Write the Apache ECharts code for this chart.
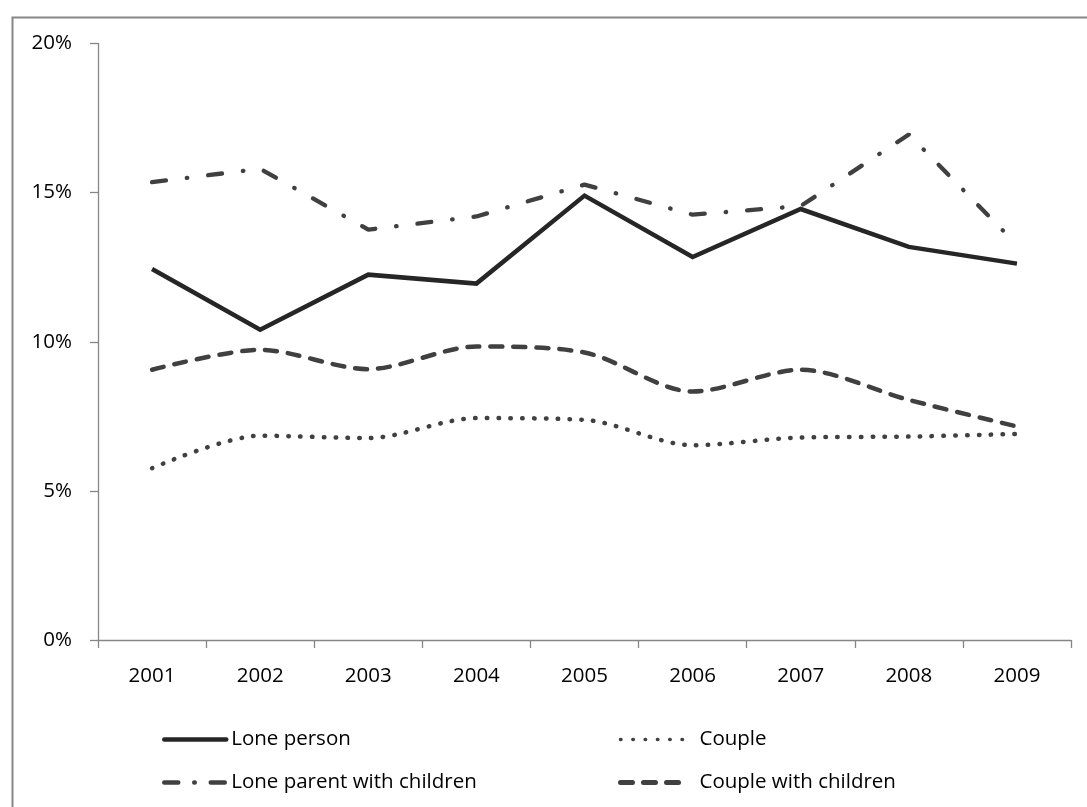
<!DOCTYPE html>
<html>
<head>
<meta charset="utf-8">
<script src="https://cdn.jsdelivr.net/npm/echarts@6/dist/echarts.min.js"></script>
<style>
html,body{margin:0;padding:0;background:#fff;}
#chart{width:1087px;height:807px;}
</style>
</head>
<body>
<div id="chart"></div>
<script>
const years = ['2001','2002','2003','2004','2005','2006','2007','2008','2009'];
const lonePerson = [12.44, 10.40, 12.25, 11.95, 14.90, 12.84, 14.45, 13.18, 12.62];
const couple = [5.76, 6.85, 6.77, 7.44, 7.38, 6.53, 6.79, 6.82, 6.91];
const loneParent = [15.35, 15.80, 13.76, 14.20, 15.27, 14.26, 14.55, 16.95, 13.25];
const coupleChildren = [9.06, 9.73, 9.08, 9.84, 9.64, 8.33, 9.06, 8.05, 7.16];
const seriesNames = ['Lone person', 'Couple', 'Lone parent with children', 'Couple with children'];
const yTicks = [0, 5, 10, 15, 20];

const FONT = "'Open Sans', 'Liberation Sans', sans-serif";
const chart = echarts.init(document.getElementById('chart'), null, {renderer: 'canvas'});

const styles = {
  'Lone person': {color: '#262626', width: 4.5, type: 'solid', cap: 'butt', join: 'miter'},
  'Couple': {color: '#404040', width: 4.5, type: [0.5, 11.3], cap: 'round'},
  'Lone parent with children': {color: '#404040', width: 4.3, type: [14, 21, 0.5, 21], cap: 'round'},
  'Couple with children': {color: '#404040', width: 4.5, type: [12, 11], cap: 'round'}
};
const legendStyles = {
  'Lone person': {color: '#262626', width: 4.5, type: 'solid', cap: 'round'},
  'Couple': {color: '#404040', width: 3.5, type: [0.5, 11.8], cap: 'round'},
  'Lone parent with children': {color: '#404040', width: 4.5, type: [14, 16, 0.5, 16, 14, 60], cap: 'round'},
  'Couple with children': {color: '#404040', width: 5, type: [12, 11], cap: 'round'}
};
function legendItem(name) {
  return {name: name, itemStyle: {opacity: 0, color: 'rgba(0,0,0,0)', borderWidth: 0}, lineStyle: legendStyles[name]};
}

const option = {
  animation: false,
  backgroundColor: '#fff',
  graphic: [{
    type: 'rect',
    left: 10, top: 15,
    shape: {x: 0, y: 0, width: 1200, height: 1000},
    style: {fill: 'none', stroke: '#868686', lineWidth: 2},
    silent: true, z: -1
  }],
  grid: {left: 98, right: 16, top: 43.5, bottom: 167, containLabel: false},
  xAxis: {
    type: 'category',
    data: years,
    boundaryGap: true,
    axisLine: {lineStyle: {color: '#868686', width: 1.3}},
    axisTick: {show: true, length: 8, inside: false, alignWithLabel: false, lineStyle: {color: '#868686', width: 1.3}},
    axisLabel: {color: '#000', fontFamily: FONT, fontSize: 20.5, margin: 26}
  },
  yAxis: {
    type: 'value',
    min: yTicks[0], max: yTicks[yTicks.length - 1], interval: 5,
    axisLine: {show: true, lineStyle: {color: '#868686', width: 1.3}},
    axisTick: {show: true, length: 8, lineStyle: {color: '#868686', width: 1.3}},
    splitLine: {show: false},
    axisLabel: {color: '#000', fontFamily: FONT, fontSize: 20.5, margin: 26, formatter: v => v + '%'}
  },
  legend: [{
    orient: 'vertical',
    left: 162, top: 729, padding: 0,
    itemWidth: 62, itemHeight: 20, itemGap: 22,
    itemStyle: {opacity: 0},
    data: [legendItem(seriesNames[0]), legendItem(seriesNames[2])],
    textStyle: {color: '#000', fontFamily: FONT, fontSize: 20.5, lineHeight: 20}
  }, {
    orient: 'vertical',
    left: 618, top: 729, padding: 0,
    itemWidth: 64, itemHeight: 20, itemGap: 22,
    itemStyle: {opacity: 0},
    data: [legendItem(seriesNames[1]), legendItem(seriesNames[3])],
    textStyle: {color: '#000', fontFamily: FONT, fontSize: 20.5, lineHeight: 20, padding: [0, 0, 0, 10]}
  }],
  series: seriesNames.map((n, i) => ({
    name: n, type: 'line',
    data: [lonePerson, couple, loneParent, coupleChildren][i],
    symbol: 'none',
    smooth: (i === 1 || i === 3) ? 0.3 : false,
    color: styles[n].color,
    lineStyle: styles[n]
  }))
};
chart.setOption(option);
</script>
</body>
</html>
